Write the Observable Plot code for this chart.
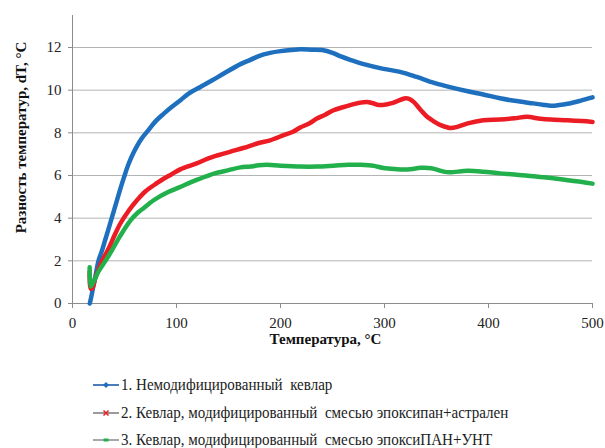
<!DOCTYPE html>
<html><head><meta charset="utf-8">
<script src="https://cdn.jsdelivr.net/npm/d3@7"></script>
<script src="https://cdn.jsdelivr.net/npm/@observablehq/plot@0.6"></script>
<style>
body{margin:0;background:#fff;}
#wrap{position:relative;width:605px;height:448px;font-family:"Liberation Serif","Times New Roman",serif;}
#wrap svg text{font-family:"Liberation Serif","Times New Roman",serif;}
#legend{position:absolute;left:93px;top:375px;font-size:16px;color:#222;}
.row{position:absolute;left:0;white-space:pre;height:20px;line-height:20px;}
.row svg{position:absolute;left:0;top:5px;}
.row span{position:absolute;left:28px;top:0;transform:scaleX(0.94);transform-origin:0 50%;}
</style></head>
<body><div id="wrap"><div id="chart"></div><div id="legend"></div></div>
<script>
const seriesNames = [
  "1. Немодифицированный  кевлар",
  "2. Кевлар, модифицированный  смесью эпоксипан+астрален",
  "3. Кевлар, модифицированный  смесью эпоксиПАН+УНТ"
];
const seriesColors = ["#1e70be", "#ec1c24", "#22b04c"];
const legendLineColors = ["#4a7ebb", "#9a9a9a", "#a8a8a8"];
const xTicks = [0, 100, 200, 300, 400, 500];
const yTicks = [0, 2, 4, 6, 8, 10, 12];
const xTitle = "Температура, °С";
const yTitle = "Разность температур, dT, °C";

const blueT = [16.6,18,20,22.5,25,28.5,32,36.5,39.7,44,49.4,54,59,66,73.4,80,87.8,95,103.8,112,123,134,145.5,161.5,171,179,190,200,210,219,230,240,250,258,267,280,299,315,331,347,360,380,395,411,425,443,452,460,468,476,488,500];
const blueDT = [0,0.3,0.8,1.4,2.0,2.5,3.07,3.8,4.33,5.05,5.9,6.55,7.1,7.7,8.15,8.55,8.9,9.2,9.53,9.85,10.15,10.45,10.78,11.22,11.42,11.6,11.75,11.83,11.88,11.92,11.9,11.88,11.75,11.58,11.42,11.22,11.0,10.86,10.62,10.35,10.18,9.95,9.8,9.62,9.5,9.38,9.32,9.27,9.3,9.36,9.5,9.66];

const redT = [16.5,17.5,19,22,25,28.5,35,40,46,54,62,70,81.4,88,95,104,120,129.5,140,152,165,177.6,190,203,212,219,228,235,243,251,260,267,275,283,288,293,300,306,313,319,323,328,335,341,347,354,363,370,380,395,411,425,437,450,460,476,490,500];
const redDT = [1.5,0.7,0.72,1.2,1.6,2.0,2.6,3.15,3.75,4.35,4.84,5.25,5.65,5.86,6.05,6.3,6.58,6.78,6.95,7.12,7.3,7.5,7.65,7.89,8.05,8.25,8.45,8.67,8.85,9.06,9.2,9.3,9.4,9.45,9.4,9.32,9.32,9.38,9.5,9.61,9.6,9.45,9.06,8.75,8.55,8.36,8.23,8.28,8.44,8.59,8.62,8.68,8.75,8.66,8.62,8.59,8.55,8.51];

const greenT = [16.5,17.5,19,22,25,31.7,38,45,55.8,63.5,68.6,78,91,104,113.5,123,136,150,161.5,171,179,187,200,219,235,251,265,277,290,299,310,322,335,345,357,363,380,395,411,425,443,460,476,490,500];
const greenDT = [1.7,0.8,0.9,1.2,1.5,2.0,2.5,3.1,3.9,4.29,4.48,4.84,5.2,5.47,5.68,5.86,6.09,6.25,6.38,6.42,6.48,6.5,6.46,6.42,6.42,6.46,6.5,6.5,6.45,6.35,6.3,6.28,6.36,6.34,6.18,6.15,6.22,6.18,6.1,6.05,5.96,5.88,5.78,5.7,5.62];

const toRows = (ts, vs) => ts.map((t, i) => ({T: t, dT: vs[i]}));
const series = [toRows(blueT, blueDT), toRows(redT, redDT), toRows(greenT, greenDT)];

const plot = Plot.plot({
  width: 605,
  height: 360,
  marginLeft: 72,
  marginRight: 13,
  marginTop: 15,
  marginBottom: 57,
  style: {fontFamily: '"Liberation Serif","Times New Roman",serif', fontSize: "15px", color: "#222", background: "#fff"},
  x: {domain: [0, 500]},
  y: {domain: [0, 13.5]},
  marks: [
    Plot.gridY(yTicks.filter(d => d > 0), {stroke: "#b4b4b4", strokeOpacity: 1, strokeWidth: 1}),
    Plot.ruleX([0], {stroke: "#8c8c8c"}),
    Plot.ruleY([0], {stroke: "#8c8c8c"}),
    Plot.axisX({ticks: xTicks, tickSize: 5, tickPadding: 9, label: null, stroke: "#8c8c8c", fill: "#222", fontSize: 15, tickFormat: d => String(d)}),
    Plot.axisY({ticks: yTicks, tickSize: 4, tickPadding: 7, label: null, stroke: "#8c8c8c", fill: "#222", fontSize: 15, tickFormat: d => String(d)}),
    ...series.map((rows, i) => Plot.line(rows, {x: "T", y: "dT", stroke: seriesColors[i], strokeWidth: 4.5, curve: "catmull-rom"})),
    Plot.text([xTitle], {frameAnchor: "bottom", dx: -7, dy: 36, fontWeight: "bold", fontSize: 15, lineAnchor: "middle", fill: "#111"}),
    Plot.text([yTitle], {frameAnchor: "left", dx: -51, dy: -22, rotate: -90, fontWeight: "bold", fontSize: 15, lineAnchor: "middle", textAnchor: "middle", fill: "#111"})
  ]
});
document.getElementById("chart").appendChild(plot);

const legend = document.getElementById("legend");
const markers = [
  c => `<path d="M13 2 L16 5 L13 8 L10 5 Z" fill="${c}"/>`,
  c => `<path d="M10.5 2.5 L15.5 7.5 M15.5 2.5 L10.5 7.5" stroke="${c}" stroke-width="1.5"/>`,
  c => `<path d="M10.5 3.5 L15.5 3.5 L15.5 6.5 L10.5 6.5 Z" fill="${c}"/>`
];
seriesNames.forEach((name, i) => {
  const row = document.createElement("div");
  row.className = "row";
  row.style.top = (i * 27.5) + "px";
  row.innerHTML = `<svg width="26" height="10"><line x1="0" y1="5" x2="26" y2="5" stroke="${legendLineColors[i]}" stroke-width="2"/>${markers[i](seriesColors[i])}</svg><span>${name}</span>`;
  legend.appendChild(row);
});
</script></body></html>
